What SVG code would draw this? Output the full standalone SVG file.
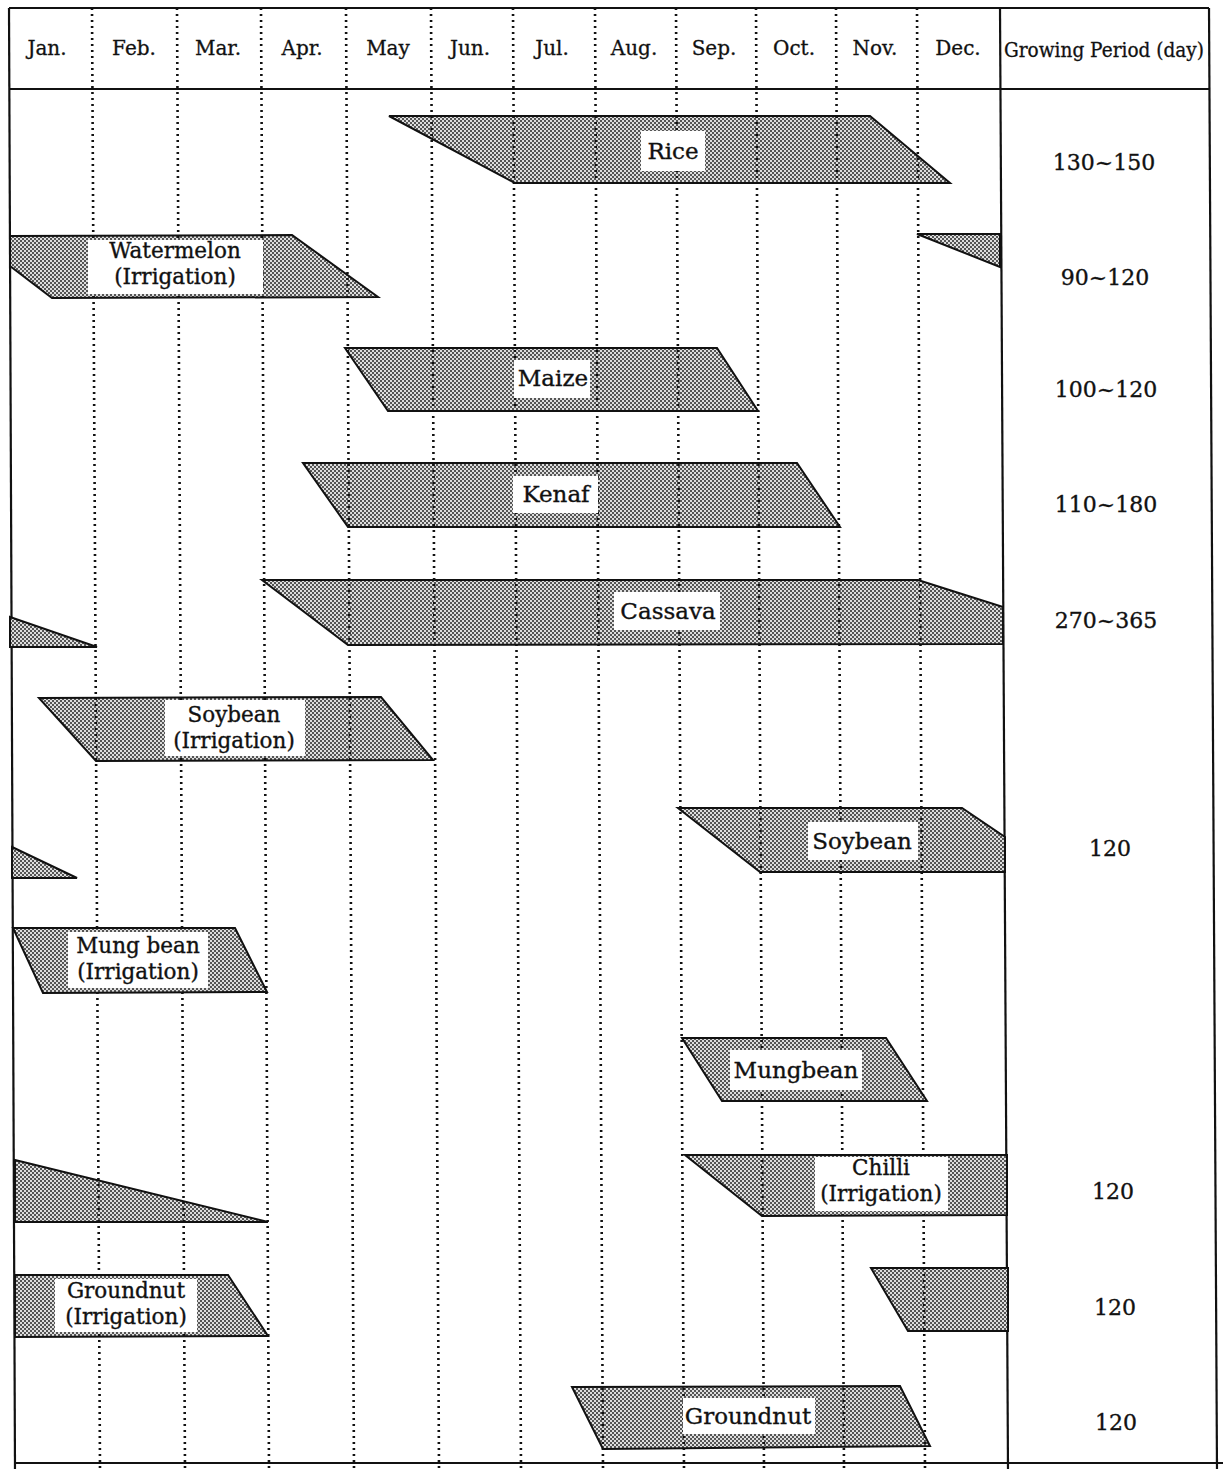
<svg xmlns="http://www.w3.org/2000/svg" width="1223" height="1469" viewBox="0 0 1223 1469">
<style>
.grid{stroke:#111;stroke-width:2.6;stroke-dasharray:2 4;fill:none}
.rule{stroke:#111;stroke-width:2.2;fill:none}
.crop{fill:url(#hatch);stroke:#111;stroke-width:2;stroke-linejoin:miter}
.box{fill:#fff}
.lbl{font-family:"DejaVu Serif","Liberation Serif",serif;font-size:23px;fill:#111;stroke:#111;stroke-width:0.35;text-anchor:middle}
.lbl2{font-size:21.5px}
.mon{font-family:"DejaVu Serif","Liberation Serif",serif;font-size:20px;fill:#111;stroke:#111;stroke-width:0.3;text-anchor:middle}
.val{font-family:"DejaVu Serif","Liberation Serif",serif;font-size:22px;fill:#111;stroke:#111;stroke-width:0.35;text-anchor:middle}
</style>
<defs>
<pattern id="hatch" width="4" height="4" patternUnits="userSpaceOnUse">
<rect width="4" height="4" fill="#dedede"/>
<rect width="2" height="2" fill="#555"/>
<rect x="2" y="2" width="2" height="2" fill="#555"/>
</pattern>
</defs>
<rect width="1223" height="1469" fill="#fff"/>

<g id="table">
<line class="rule" x1="9" y1="8" x2="1209" y2="8"/>
<line class="rule" x1="9" y1="89" x2="1209" y2="89"/>
<line class="rule" x1="9" y1="8" x2="15" y2="1469"/>
<line class="rule" x1="1000" y1="8" x2="1008" y2="1469"/>
<line class="rule" x1="1209" y1="8" x2="1217" y2="1469"/>
<line class="rule" x1="15" y1="1463" x2="1223" y2="1463"/>
</g>

<g id="header">
<text class="mon" x="47" y="55">Jan.</text>
<text class="mon" x="134" y="55">Feb.</text>
<text class="mon" x="218" y="55">Mar.</text>
<text class="mon" x="302" y="55">Apr.</text>
<text class="mon" x="388" y="55">May</text>
<text class="mon" x="470" y="55">Jun.</text>
<text class="mon" x="552" y="55">Jul.</text>
<text class="mon" x="634" y="55">Aug.</text>
<text class="mon" x="714" y="55">Sep.</text>
<text class="mon" x="794" y="55">Oct.</text>
<text class="mon" x="875" y="55">Nov.</text>
<text class="mon" x="958" y="55">Dec.</text>
<text class="mon" x="1104" y="57" font-size="17" textLength="200" lengthAdjust="spacingAndGlyphs">Growing Period (day)</text>
</g>

<g id="crops">
<g id="rice"><polygon class="crop" points="389,116 870,116 950,183 515,183"/></g>
<g id="watermelon-irr"><polygon class="crop" points="10,236 292,235 378,297 52,298 10,266"/><polygon class="crop" points="917,234 1000,234 1000,267"/></g>
<g id="maize"><polygon class="crop" points="345,348 717,348 758,411 388,411"/></g>
<g id="kenaf"><polygon class="crop" points="303,463 797,463 840,527 348,527"/></g>
<g id="cassava"><polygon class="crop" points="262,580 918,580 1003,607 1003,644 348,645"/><polygon class="crop" points="10,617 97,647 10,647"/></g>
<g id="soybean-irr"><polygon class="crop" points="39,698 381,697 433,760 96,761"/></g>
<g id="soybean"><polygon class="crop" points="678,808 962,808 1005,837 1005,872 760,872"/><polygon class="crop" points="12,847 77,878 12,878"/></g>
<g id="mungbean-irr"><polygon class="crop" points="13,928 235,928 267,992 43,993"/></g>
<g id="mungbean"><polygon class="crop" points="682,1038 886,1038 927,1101 722,1101"/></g>
<g id="chilli-irr"><polygon class="crop" points="685,1155 1007,1155 1007,1215 762,1216"/><polygon class="crop" points="15,1160 268,1222 15,1222"/></g>
<g id="groundnut-irr"><polygon class="crop" points="15,1275 228,1275 268,1336 15,1337"/><polygon class="crop" points="871,1268 1008,1268 1008,1331 908,1331"/></g>
<g id="groundnut"><polygon class="crop" points="572,1387 900,1386 930,1446 603,1449"/></g>
</g>

<g id="gridlines">
<line class="grid" x1="92" y1="8" x2="100" y2="1469"/>
<line class="grid" x1="177" y1="8" x2="185" y2="1469"/>
<line class="grid" x1="261" y1="8" x2="269" y2="1469"/>
<line class="grid" x1="346" y1="8" x2="354" y2="1469"/>
<line class="grid" x1="431" y1="8" x2="439" y2="1469"/>
<line class="grid" x1="513" y1="8" x2="521" y2="1469"/>
<line class="grid" x1="595" y1="8" x2="603" y2="1469"/>
<line class="grid" x1="676" y1="8" x2="684" y2="1469"/>
<line class="grid" x1="756" y1="8" x2="764" y2="1469"/>
<line class="grid" x1="836" y1="8" x2="844" y2="1469"/>
<line class="grid" x1="917" y1="8" x2="925" y2="1469"/>
</g>

<g id="labels">
<g id="rice-label"><rect class="box" x="641" y="131" width="64" height="40"/><text class="lbl" x="673" y="159">Rice</text></g>
<g id="watermelon-label"><rect class="box" x="88" y="240" width="175" height="54"/><text class="lbl lbl2" x="175" y="258">Watermelon</text><text class="lbl lbl2" x="175" y="284">(Irrigation)</text></g>
<g id="maize-label"><rect class="box" x="514" y="360" width="76" height="38"/><text class="lbl" x="553" y="386">Maize</text></g>
<g id="kenaf-label"><rect class="box" x="513" y="476" width="85" height="37"/><text class="lbl" x="556" y="502">Kenaf</text></g>
<g id="cassava-label"><rect class="box" x="614" y="592" width="106" height="38"/><text class="lbl" x="668" y="619">Cassava</text></g>
<g id="soybean-irr-label"><rect class="box" x="165" y="700" width="140" height="56"/><text class="lbl lbl2" x="234" y="722">Soybean</text><text class="lbl lbl2" x="234" y="748">(Irrigation)</text></g>
<g id="soybean-label"><rect class="box" x="808" y="822" width="110" height="38"/><text class="lbl" x="862" y="849">Soybean</text></g>
<g id="mungbean-irr-label"><rect class="box" x="68" y="932" width="140" height="56"/><text class="lbl lbl2" x="138" y="953">Mung bean</text><text class="lbl lbl2" x="138" y="979">(Irrigation)</text></g>
<g id="mungbean-label"><rect class="box" x="730" y="1050" width="132" height="40"/><text class="lbl" x="796" y="1078">Mungbean</text></g>
<g id="chilli-label"><rect class="box" x="815" y="1157" width="133" height="54"/><text class="lbl lbl2" x="881" y="1175">Chilli</text><text class="lbl lbl2" x="881" y="1201">(Irrigation)</text></g>
<g id="groundnut-irr-label"><rect class="box" x="55" y="1279" width="142" height="53"/><text class="lbl lbl2" x="126" y="1298">Groundnut</text><text class="lbl lbl2" x="126" y="1324">(Irrigation)</text></g>
<g id="groundnut-label"><rect class="box" x="683" y="1398" width="132" height="36"/><text class="lbl" x="748" y="1424">Groundnut</text></g>
</g>

<g id="periods">
<text class="val" x="1104" y="170">130~150</text>
<text class="val" x="1105" y="285">90~120</text>
<text class="val" x="1106" y="397">100~120</text>
<text class="val" x="1106" y="512">110~180</text>
<text class="val" x="1106" y="628">270~365</text>
<text class="val" x="1110" y="856">120</text>
<text class="val" x="1113" y="1199">120</text>
<text class="val" x="1115" y="1315">120</text>
<text class="val" x="1116" y="1430">120</text>
</g>
</svg>
